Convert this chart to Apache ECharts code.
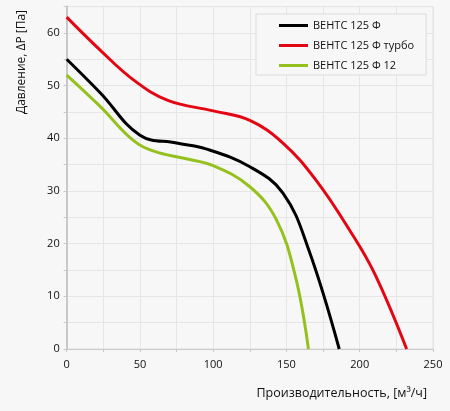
<!DOCTYPE html>
<html>
<head>
<meta charset="utf-8">
<script src="https://cdn.jsdelivr.net/npm/echarts@6/dist/echarts.min.js"></script>
<style>
  html, body { margin: 0; padding: 0; background: #f7f7f7; }
  #chart { width: 450px; height: 411px; }
</style>
</head>
<body>
<div id="chart"></div>
<script>
// names of the three fans
var seriesNames = ['ВЕНТС 125 Ф', 'ВЕНТС 125 Ф турбо', 'ВЕНТС 125 Ф 12']
var seriesColors = ['#000000', '#e30613', '#95c11f']

// [расход м3/ч, давление Па]
var fanBase = [[0, 55], [23, 48.6], [50, 40.6], [75, 39.1], [95, 38], [125, 34.6],
  [147.6, 29.6], [165, 19], [186, 0]]
var fanTurbo = [[0, 63], [23, 56.7], [46, 51], [69, 47.2], [100, 45.2], [125, 43.4],
  [147.6, 39.1], [170, 32.1], [193, 22.6], [210, 14.4], [232, 0]]
var fan12 = [[0, 52], [23, 46], [45, 39.7], [60, 37.5], [80, 36.2], [100, 34.8],
  [125, 30.8], [143, 24.6], [156, 13.9], [165, 0]]
var seriesData = [fanBase, fanTurbo, fan12]

var xTitle = 'Производительность, [м³/ч]'
var yTitle = 'Давление, ΔP [Па]'

var myChart = echarts.init(document.getElementById('chart'))

function buildSeries() {
  var list = []
  seriesData.forEach(function (d, i) {
    list.push({
      name: seriesNames[i],
      type: 'line',
      data: d,
      smooth: 0.4,
      showSymbol: false,
      symbol: 'none',
      lineStyle: { color: seriesColors[i], width: 3 },
      itemStyle: { color: seriesColors[i] }
    })
  })
  return list
}

myChart.setOption({
  backgroundColor: '#f7f7f7',
  animation: false,
  textStyle: { fontFamily: 'Open Sans' },
  grid: { left: 66.7, right: 17, top: 6.6, bottom: 62 },
  legend: {
    orient: 'vertical',
    left: 256,
    top: 14,
    padding: [6, 12, 4, 23],
    itemGap: 9,
    itemWidth: 29,
    itemHeight: 3,
    icon: 'rect',
    borderColor: '#dcdcdc',
    borderWidth: 1,
    backgroundColor: '#f7f7f7',
    textStyle: { fontSize: 11, color: '#111', fontFamily: 'Open Sans' },
    data: seriesNames
  },
  xAxis: {
    type: 'value',
    min: 0,
    max: 250,
    interval: 25,
    axisLine: { show: true, lineStyle: { color: '#c8c8c8', width: 1 } },
    axisTick: { show: true, length: 3, lineStyle: { color: '#c8c8c8' } },
    axisLabel: {
      color: '#111', fontSize: 11, margin: 10,
      formatter: function (v) { return v % 50 === 0 ? v : '' }
    },
    splitLine: { show: true, lineStyle: { color: '#e6e6e6' } }
  },
  yAxis: {
    type: 'value',
    min: 0,
    max: 65,
    interval: 5,
    axisLine: { show: true, lineStyle: { color: '#c8c8c8', width: 2 } },
    axisTick: { show: true, length: 3, lineStyle: { color: '#c8c8c8' } },
    axisLabel: {
      color: '#111', fontSize: 11, margin: 7,
      formatter: function (v) { return v % 10 === 0 ? v : '' }
    },
    splitLine: { show: true, lineStyle: { color: '#e6e6e6' } }
  },
  graphic: [
    {
      type: 'text',
      x: 22,
      y: 62,
      rotation: Math.PI / 2,
      style: {
        text: yTitle, fill: '#111', fontSize: 12, fontFamily: 'Open Sans',
        align: 'center', verticalAlign: 'middle'
      }
    },
    {
      type: 'text',
      x: 427,
      y: 393,
      style: {
        text: xTitle, fill: '#111', fontSize: 12.5, fontFamily: 'Open Sans',
        align: 'right', verticalAlign: 'middle'
      }
    },
    {
      type: 'rect',
      shape: { x: 66.7, y: 6.6, width: 366.3, height: 342.4 },
      style: { fill: 'none', stroke: '#dedede', lineWidth: 1 },
      silent: true,
      z: -1
    }
  ],
  series: buildSeries()
})
</script>
</body>
</html>
